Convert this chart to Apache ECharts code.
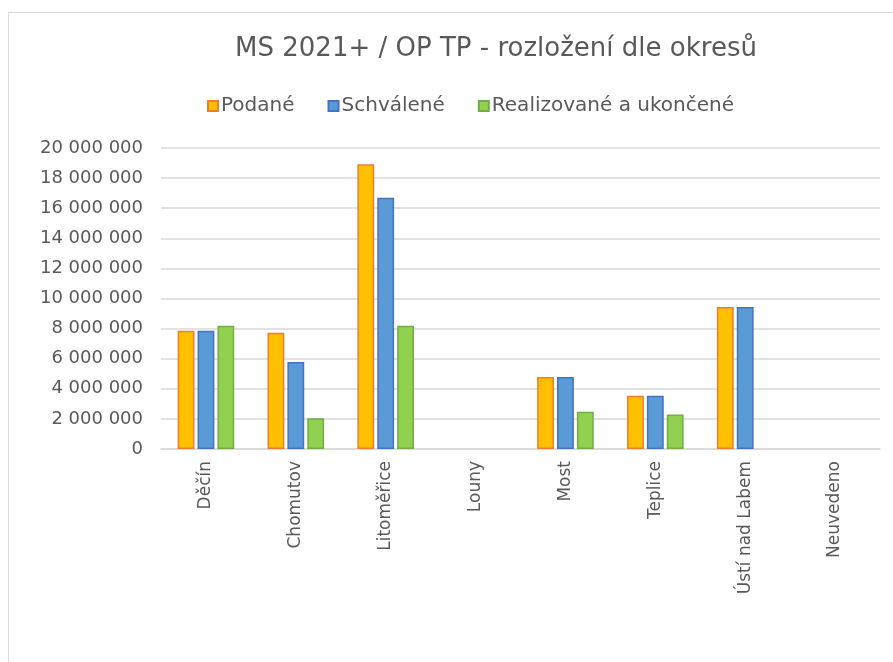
<!DOCTYPE html>
<html>
<head>
<meta charset="utf-8">
<script src="https://cdn.jsdelivr.net/npm/echarts@6/dist/echarts.min.js"></script>
<style>
html,body{margin:0;padding:0;background:#fff;overflow:hidden;}
#chart{width:893px;height:662px;}
</style>
</head>
<body>
<div id="chart"></div>
<script>
var categories = ['Děčín', 'Chomutov', 'Litoměřice', 'Louny', 'Most', 'Teplice', 'Ústí nad Labem', 'Neuvedeno'];
var seriesNames = ['Podané', 'Schválené', 'Realizované a ukončené'];
var podane = [7860000, 7730000, 18920000, null, 4780000, 3540000, 9430000, null];
var schvalene = [7860000, 5780000, 16700000, null, 4780000, 3540000, 9430000, null];
var realizovane = [8190000, 2040000, 8190000, null, 2480000, 2300000, null, null];
var yTicks = [0, 2000000, 4000000, 6000000, 8000000, 10000000, 12000000, 14000000, 16000000, 18000000, 20000000];

var fontFam = '"DejaVu Sans", sans-serif';
function fmt(v) {
  return String(v).replace(/\B(?=(\d{3})+(?!\d))/g, ' ');
}
var fills = ['#FFC000', '#5B9BD5', '#92D050'];
var borders = ['#ED7D31', '#4472C4', '#70AD47'];
var values = [podane, schvalene, realizovane];

var chart = echarts.init(document.getElementById('chart'), null, {renderer: 'canvas'});
chart.setOption({
  animation: false,
  backgroundColor: '#fff',
  title: {
    text: 'MS 2021+ / OP TP - rozložení dle okresů',
    left: 491,
    top: 31,
    textAlign: 'center',
    textStyle: {fontFamily: fontFam, fontSize: 26, fontWeight: 'normal', color: '#595959'}
  },
  legend: {
    data: seriesNames,
    left: 202,
    top: 91,
    itemWidth: 10,
    itemHeight: 10,
    itemGap: 33,
    icon: 'rect',
    textStyle: {fontFamily: fontFam, fontSize: 20, color: '#595959', padding: [0, 0, 0, -2]}
  },
  graphic: [
    {type: 'line', shape: {x1: 8, y1: 12.5, x2: 893, y2: 12.5}, style: {stroke: '#d9d9d9', lineWidth: 1}},
    {type: 'line', shape: {x1: 8.5, y1: 12, x2: 8.5, y2: 662}, style: {stroke: '#d9d9d9', lineWidth: 1}}
  ],
  grid: {left: 161, right: 13, top: 148, bottom: 213, containLabel: false},
  xAxis: {
    type: 'category',
    data: categories,
    axisTick: {show: false},
    axisLine: {lineStyle: {color: '#d9d9d9', width: 1.5}},
    axisLabel: {rotate: 90, margin: 12, fontFamily: fontFam, fontSize: 17, color: '#595959'}
  },
  yAxis: {
    type: 'value',
    min: 0,
    max: 20000000,
    interval: 2000000,
    axisLine: {show: false},
    axisTick: {show: false},
    splitLine: {lineStyle: {color: '#d9d9d9', width: 1.5}},
    axisLabel: {
      margin: 18,
      fontFamily: fontFam, fontSize: 18, color: '#595959',
      formatter: function (v) { return yTicks.indexOf(v) >= 0 ? fmt(v) : ''; }
    }
  },
  series: seriesNames.map(function (name, i) {
    return {
      name: name,
      type: 'bar',
      data: values[i],
      barGap: '18%',
      barCategoryGap: '37%',
      itemStyle: {color: fills[i], borderColor: borders[i], borderWidth: 1.5}
    };
  })
});
</script>
</body>
</html>
